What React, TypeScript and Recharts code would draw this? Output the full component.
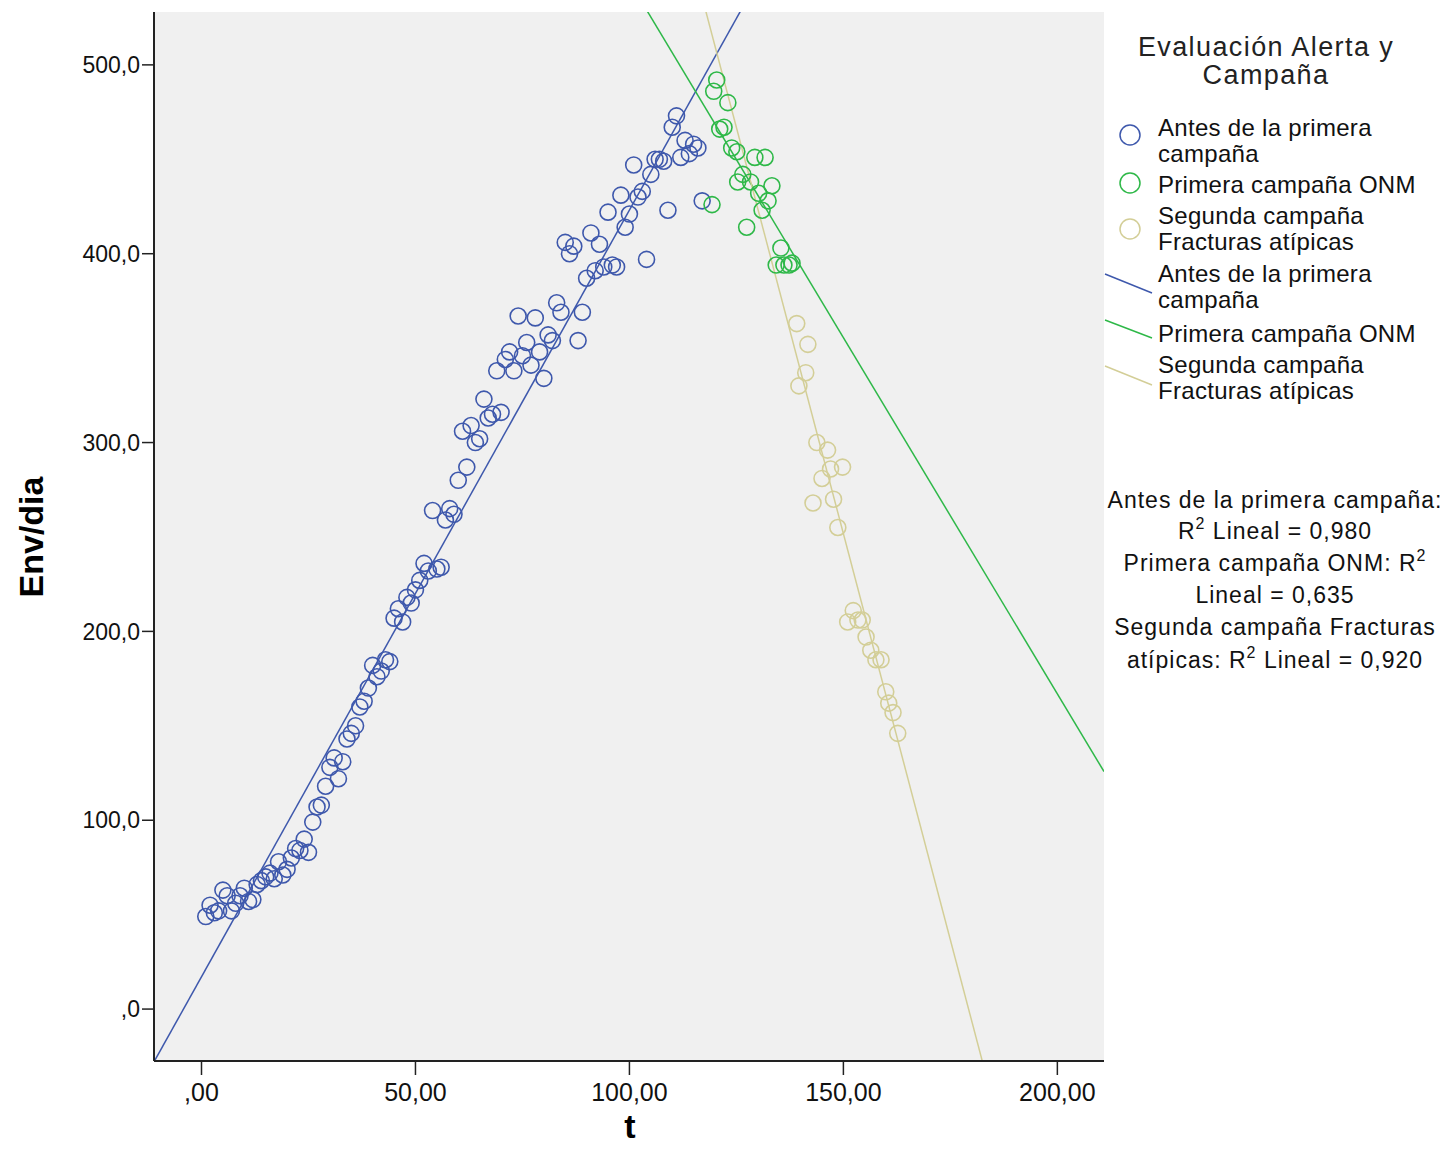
import React from 'react';
import { ComposedChart, Scatter, Line, XAxis, YAxis, CartesianGrid } from 'recharts';

// ---- data ----
const blueT = [
  1, 2, 3, 4, 5, 6, 7, 8, 9, 10,
  11, 12, 13, 14, 15, 16, 17, 18, 19, 20,
  21, 22, 23, 24, 25, 26, 27, 28, 29, 30,
  31, 32, 33, 34, 35, 36, 37, 38, 39, 40,
  41, 42, 43, 44, 45, 46, 47, 48, 49, 50,
  51, 52, 53, 54, 55, 56, 57, 58, 59, 60,
  61, 62, 63, 64, 65, 66, 67, 68, 69, 70,
  71, 72, 73, 74, 75, 76, 77, 78, 79, 80,
  81, 82, 83, 84, 85, 86, 87, 88, 89, 90,
  91, 92, 93, 94, 95, 96, 97, 98, 99, 100,
  101, 102, 103, 104, 105, 106, 107, 108, 109, 110,
  111, 112, 113, 114, 115, 116, 117,
];
const blueV = [
  49, 55, 51, 52, 63, 60, 52, 56, 60, 64,
  57, 58, 66, 68, 70, 72, 69, 78, 71, 74,
  80, 85, 84, 90, 83, 99, 107, 108, 118, 128,
  133, 122, 131, 143, 146, 150, 160, 163, 170, 182,
  176, 179, 185, 184, 207, 212, 205, 218, 215, 222,
  227, 236, 232, 264, 233, 234, 259, 265, 262, 280,
  306, 287, 309, 300, 302, 323, 313, 315, 338, 316,
  344, 348, 338, 367, 346, 353, 341, 366, 348, 334,
  357, 354, 374, 369, 406, 400, 404, 354, 369, 387,
  411, 391, 405, 393, 422, 394, 393, 431, 414, 421,
  447, 430, 433, 397, 442, 450, 450, 449, 423, 467,
  473, 451, 460, 453, 458, 456, 428,
];

const greenT = [119.3, 119.7, 120.4, 121.1, 122.1, 123.0, 123.9, 125.1, 125.3, 126.5, 127.4, 128.3, 129.3, 130.2, 131.0, 131.7, 132.4, 133.3, 134.3, 135.4, 136.1, 137.3, 138.0];
const greenV = [426, 486, 492, 466, 467, 480, 456, 454, 438, 442, 414, 438, 451, 432, 423, 451, 428, 436, 394, 403, 394, 394, 395];

const yellowT = [139.1, 139.6, 141.2, 141.7, 142.9, 143.8, 145.0, 146.3, 147.0, 147.7, 148.7, 149.8, 151.0, 152.3, 153.4, 154.4, 155.3, 156.4, 157.6, 158.8, 159.9, 160.6, 161.6, 162.7];
const yellowV = [363, 330, 337, 352, 268, 300, 281, 296, 286, 270, 255, 287, 205, 211, 206, 206, 197, 190, 185, 185, 168, 162, 157, 146];

const seriesNames = ['Antes de la primera campaña', 'Primera campaña ONM', 'Segunda campaña Fracturas atípicas'];
const legendLines = [['Antes de la primera', 'campaña'], ['Primera campaña ONM'], ['Segunda campaña', 'Fracturas atípicas']];
const seriesColors = ['#3E58AC', '#2EB848', '#D3CE97'];
const fitIntercepts = [17.1, 921.5, 1542.5];
const fitSlopes = [4.06, -3.773, -8.605];
const r2Values = ['0,980', '0,635', '0,920'];
const legendTitle = ['Evaluación Alerta y', 'Campaña'];

const xTicks = [0, 50, 100, 150, 200];
const yTicks = [0, 100, 200, 300, 400, 500];
const xDomain = [-11.1, 210.9];
const yDomain = [-27.5, 528];

const toRows = (ts: number[], vs: number[]) => ts.map((t, i) => ({ t, v: vs[i] }));
const scatterData = [toRows(blueT, blueV), toRows(greenT, greenV), toRows(yellowT, yellowV)];
const fitData = fitIntercepts.map((a, i) => xDomain.map((t) => ({ t, v: a + fitSlopes[i] * t })));

const FONT = '"Liberation Sans", Arial, sans-serif';

const fmtX = (v: number) => (v === 0 ? ',00' : v.toFixed(2).replace('.', ','));
const fmtY = (v: number) => (v === 0 ? ',0' : v.toFixed(1).replace('.', ','));

const makeShape = (color: string) => (props: any) => (
  <circle cx={props.cx} cy={props.cy} r={8} fill="none" stroke={color} strokeWidth={1.6} />
);

const XTick = (props: any) => {
  const { x, y, payload } = props;
  return (
    <text x={x} y={y + 24} textAnchor="middle" fontFamily={FONT} fontSize={25} fill="#111">
      {fmtX(payload.value)}
    </text>
  );
};

export default function App() {
  return (
    <div style={{ position: 'absolute', left: 0, top: 0, width: 1451, height: 1166, background: '#fff', fontFamily: FONT }}>
      <ComposedChart width={1451} height={1166} margin={{ top: 12, right: 347, bottom: 0, left: 0 }}>
        <CartesianGrid fill="#F0F0F0" horizontal={false} vertical={false} />
        <XAxis
          dataKey="t"
          type="number"
          domain={xDomain}
          ticks={xTicks}
          allowDataOverflow
          height={105}
          tickSize={14}
          tickMargin={2}
          tick={<XTick />}
          axisLine={{ stroke: '#222', strokeWidth: 2 }}
          tickLine={{ stroke: '#222', strokeWidth: 1.5 }}
          label={{
            content: () => (
              <text x={630} y={1138} textAnchor="middle" fontFamily={FONT} fontWeight="bold" fontSize={34} fill="#000">
                t
              </text>
            ),
          }}
        />
        <XAxis xAxisId="top" orientation="top" type="number" domain={xDomain} allowDataOverflow height={0} tick={false} tickLine={false} axisLine={{ stroke: '#444', strokeWidth: 2 }} />
        <YAxis
          dataKey="v"
          type="number"
          domain={yDomain}
          ticks={yTicks}
          allowDataOverflow
          width={154}
          tickSize={12}
          tickMargin={2}
          tickFormatter={fmtY}
          tick={{ fill: '#111', fontSize: 23, fontFamily: FONT }}
          axisLine={{ stroke: '#222', strokeWidth: 2 }}
          tickLine={{ stroke: '#222', strokeWidth: 1.5 }}
          label={{
            content: () => (
              <text x={43} y={537} transform="rotate(-90 43 537)" textAnchor="middle" fontFamily={FONT} fontWeight="bold" fontSize={34} fill="#000">
                Env/dia
              </text>
            ),
          }}
        />
        <YAxis yAxisId="right" orientation="right" type="number" domain={yDomain} allowDataOverflow width={0} tick={false} tickLine={false} axisLine={{ stroke: '#444', strokeWidth: 2 }} />
        {scatterData.map((d, i) => (
          <Scatter key={'s' + i} name={seriesNames[i]} data={d} dataKey="v" shape={makeShape(seriesColors[i])} isAnimationActive={false} />
        ))}
        {fitData.map((d, i) => (
          <Line key={'l' + i} name={seriesNames[i]} data={d} dataKey="v" type="linear" stroke={seriesColors[i]} strokeWidth={1.5} dot={false} activeDot={false} isAnimationActive={false} legendType="none" />
        ))}
      </ComposedChart>
      <svg width={351} height={700} style={{ position: 'absolute', left: 1100, top: 0 }} fontFamily={FONT}>
        {legendTitle.map((s, i) => (
          <text key={'t' + i} x={166} y={47 + i * 28} textAnchor="middle" dominantBaseline="central" fontSize={27} letterSpacing={1.4} fill="#222">
            {s}
          </text>
        ))}
        {[0, 1, 2].map((i) => (
          <circle key={'c' + i} cx={30} cy={[135, 183, 229][i]} r={10} fill="none" stroke={seriesColors[i]} strokeWidth={1.5} />
        ))}
        {[0, 1, 2].map((i) => (
          <line key={'ln' + i} x1={5} y1={[274, 320, 366][i]} x2={52} y2={[293, 338, 385][i]} stroke={seriesColors[i]} strokeWidth={1.5} />
        ))}
        {[0, 1, 2].map((i) =>
          legendLines[i].map((s, j) => (
            <text key={'a' + i + j} x={58} y={[127, 184, 215][i] + j * 26} dominantBaseline="central" fontSize={24} letterSpacing={0.3} fill="#111">
              {s}
            </text>
          ))
        )}
        {[0, 1, 2].map((i) =>
          legendLines[i].map((s, j) => (
            <text key={'b' + i + j} x={58} y={[273, 333, 364][i] + j * 26} dominantBaseline="central" fontSize={24} letterSpacing={0.3} fill="#111">
              {s}
            </text>
          ))
        )}
        <g fontSize={23} letterSpacing={1} fill="#111" textAnchor="middle">
          <text x={175} y={500} dominantBaseline="central">{seriesNames[0]}:</text>
          <text x={175} y={531} dominantBaseline="central">
            R<tspan dy={-8} fontSize={16}>2</tspan><tspan dy={8}> Lineal = {r2Values[0]}</tspan>
          </text>
          <text x={175} y={563} dominantBaseline="central">
            {seriesNames[1]}: R<tspan dy={-8} fontSize={16}>2</tspan>
          </text>
          <text x={175} y={595} dominantBaseline="central">Lineal = {r2Values[1]}</text>
          <text x={175} y={627} dominantBaseline="central">Segunda campaña Fracturas</text>
          <text x={175} y={660} dominantBaseline="central">
            atípicas: R<tspan dy={-8} fontSize={16}>2</tspan><tspan dy={8}> Lineal = {r2Values[2]}</tspan>
          </text>
        </g>
      </svg>
    </div>
  );
}
